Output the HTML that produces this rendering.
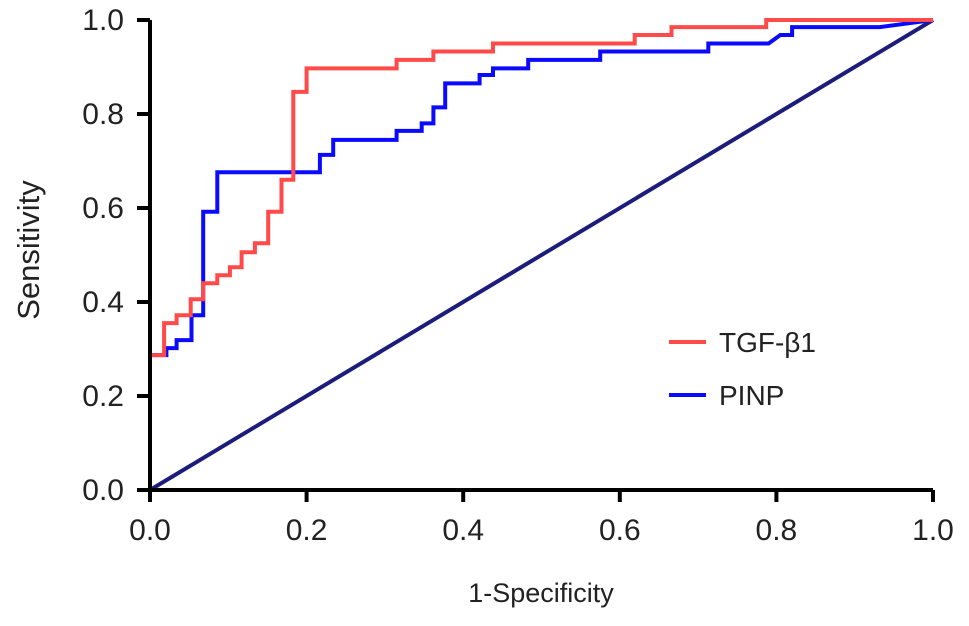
<!DOCTYPE html>
<html><head><meta charset="utf-8"><style>
body{margin:0;background:#fff;width:969px;height:621px;overflow:hidden}
text{font-family:"Liberation Sans",sans-serif;fill:#222}
</style></head><body>
<svg width="969" height="621" xmlns="http://www.w3.org/2000/svg">
<g id="plot"></g>
</svg>
<script>
const xTicks=[0,0.2,0.4,0.6,0.8,1.0];
const yTicks=[0,0.2,0.4,0.6,0.8,1.0];
const tgfFpr=[0,0,0.018,0.018,0.034,0.034,0.052,0.052,0.068,0.068,0.086,0.086,0.102,0.102,0.117,0.117,0.134,0.134,0.151,0.151,0.168,0.168,0.183,0.183,0.2,0.2,0.315,0.315,0.362,0.362,0.438,0.438,0.619,0.619,0.666,0.666,0.787,0.787,1];
const tgfTpr=[0,0.287,0.287,0.355,0.355,0.372,0.372,0.406,0.406,0.44,0.44,0.457,0.457,0.474,0.474,0.506,0.506,0.525,0.525,0.592,0.592,0.66,0.66,0.847,0.847,0.897,0.897,0.915,0.915,0.933,0.933,0.95,0.95,0.968,0.968,0.985,0.985,1,1];
const pinpFpr=[0,0,0.021,0.021,0.034,0.034,0.053,0.053,0.068,0.068,0.086,0.086,0.217,0.217,0.234,0.234,0.315,0.315,0.347,0.347,0.362,0.362,0.377,0.377,0.421,0.421,0.438,0.438,0.483,0.483,0.575,0.575,0.713,0.713,0.79,0.805,0.82,0.82,0.932,1];
const pinpTpr=[0,0.287,0.287,0.302,0.302,0.319,0.319,0.372,0.372,0.592,0.592,0.676,0.676,0.713,0.713,0.745,0.745,0.764,0.764,0.78,0.78,0.814,0.814,0.865,0.865,0.883,0.883,0.897,0.897,0.915,0.915,0.933,0.933,0.95,0.95,0.968,0.968,0.985,0.985,1];
const refFpr=[0,1];
const refTpr=[0,1];

const X=v=>150+v*783, Y=v=>490-v*470;
const g=document.getElementById('plot');
const NS='http://www.w3.org/2000/svg';
function mk(tag,attrs,parent){const e=document.createElementNS(NS,tag);for(const k in attrs)e.setAttribute(k,attrs[k]);(parent||g).appendChild(e);return e;}
function line(xs,ys,color,name){
  const pts=xs.map((x,i)=>X(x).toFixed(1)+','+Y(ys[i]).toFixed(1)).join(' ');
  const p=mk('polyline',{points:pts,fill:'none',stroke:color,'stroke-width':4,'stroke-linejoin':'miter'});
  
  
}
line(refFpr,refTpr,'#1c1c7c','reference-diagonal');
line(pinpFpr,pinpTpr,'#0a0aff','pinp-curve');
line(tgfFpr,tgfTpr,'#ff4a4a','tgf-b1-curve');
const ax=mk('path',{d:`M${X(0)},${Y(1)} V${Y(0)} H${X(1)}`,fill:'none',stroke:'#000','stroke-width':4});


xTicks.forEach(v=>{
  const t=mk('line',{x1:X(v),x2:X(v),y1:Y(0),y2:Y(0)+12,stroke:'#000','stroke-width':4});
  
  
  const l=mk('text',{x:X(v),y:540,'font-size':30,'text-anchor':'middle'});
  l.textContent=v.toFixed(1);
  
  
});
yTicks.forEach(v=>{
  const t=mk('line',{x1:X(0)-13,x2:X(0),y1:Y(v),y2:Y(v),stroke:'#000','stroke-width':4});
  
  
  const l=mk('text',{x:124,y:Y(v)+10,'font-size':30,'text-anchor':'end'});
  l.textContent=v.toFixed(1);
  
  
});
const xt=mk('text',{x:541,y:602,'font-size':27,'text-anchor':'middle'});
xt.textContent='1-Specificity';


const yt=mk('text',{x:39,y:250,'font-size':31,'text-anchor':'middle',transform:'rotate(-90 39 250)'});
yt.textContent='Sensitivity';


[['TGF-β1','#ff4a4a',342,'legend-entry-tgf-b1'],['PINP','#0a0aff',395,'legend-entry-pinp']].forEach(([t,c,y,n])=>{
  const gg=mk('g',{});
  
  
  mk('line',{x1:669,x2:706,y1:y,y2:y,stroke:c,'stroke-width':4},gg);
  const tx=mk('text',{x:719,y:y+10,'font-size':28},gg);
  tx.textContent=t;
});
</script>
</body></html>
